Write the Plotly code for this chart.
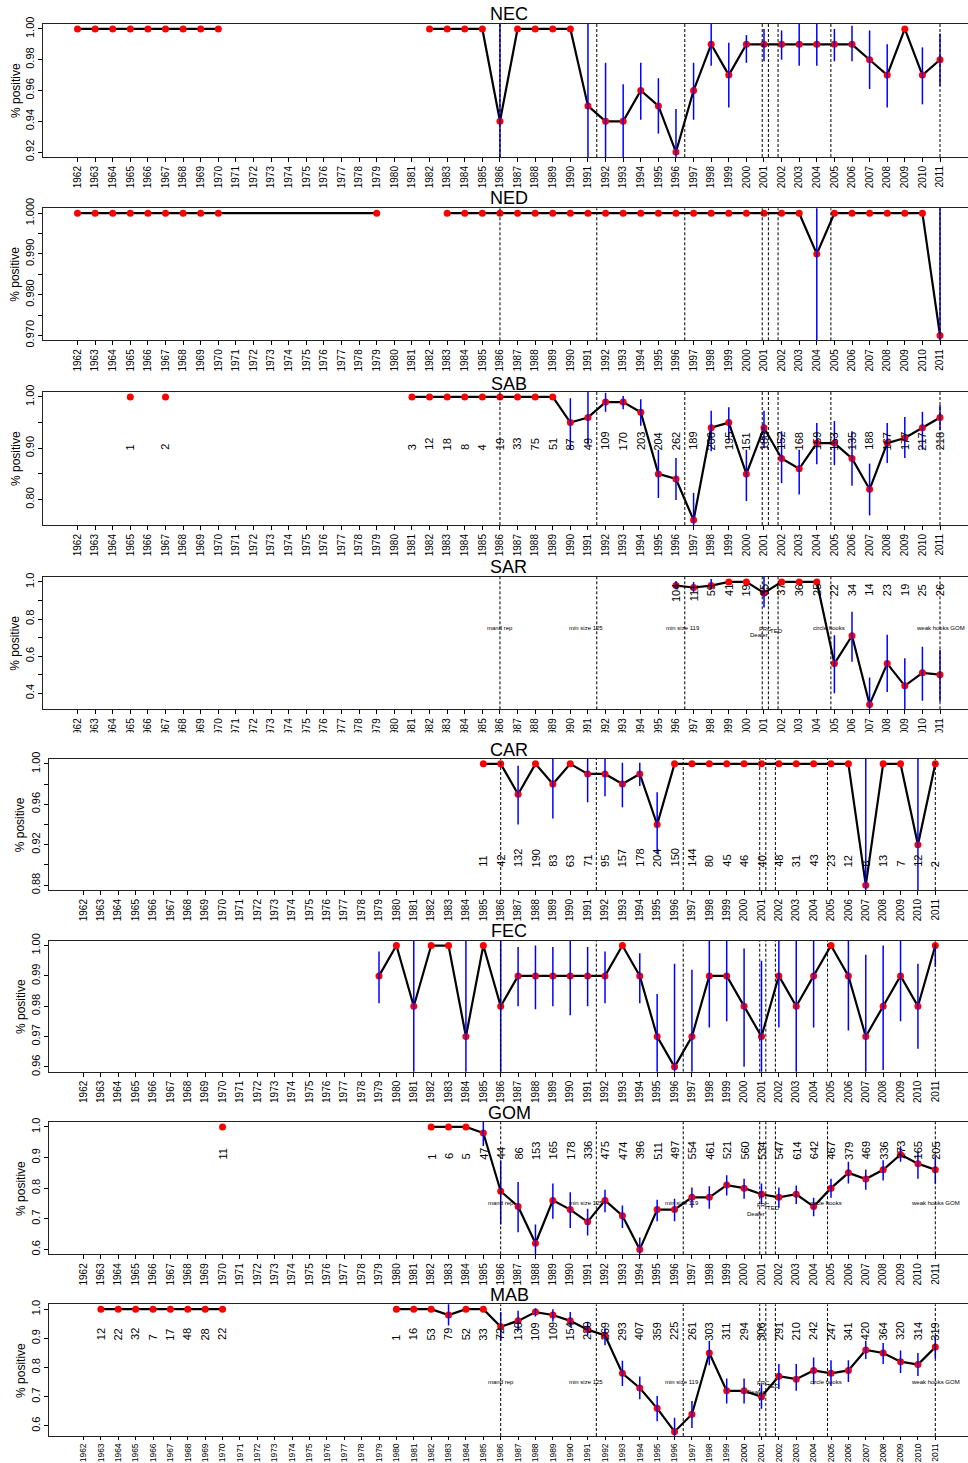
import plotly.graph_objects as go

W, H = 968, 1463
FONT = "Liberation Sans, Arial, sans-serif"

# ---------------- data ----------------
regions = ["NEC", "NED", "SAB", "SAR", "CAR", "FEC", "GOM", "MAB"]
axis_years = list(range(1962, 2012))

# NEC (1971 = gap marker)
nec_years = list(range(1962, 1971)) + [1971] + list(range(1982, 2012))
nec_pct = [1.0] * 9 + [None] + [1.0, 1.0, 1.0, 1.0, 0.94, 1.0, 1.0, 1.0, 1.0,
                               0.95, 0.94, 0.94, 0.96, 0.95, 0.92, 0.96, 0.99, 0.97, 0.99, 0.99,
                               0.99, 0.99, 0.99, 0.99, 0.99, 0.98, 0.97, 1.00, 0.97, 0.98]
nec_lo = [None] * 10 + [None] * 4 + [0.90] + [None] * 4 + [
    0.90, 0.90, 0.90, 0.941, 0.932, 0.90, 0.941, 0.976, 0.949, 0.978, 0.979,
    0.980, 0.976, 0.976, 0.979, 0.979, 0.961, 0.949, None, 0.951, 0.963]
nec_hi = [None] * 10 + [None] * 4 + [1.01] + [None] * 4 + [
    1.01, 0.978, 0.964, 0.978, 0.968, 0.948, 0.978, 1.01, 0.991, 0.996, 1.0,
    0.999, 1.01, 1.01, 1.0, 1.002, 0.999, 0.990, None, 0.988, 0.997]
nec_n = [None] * len(nec_years)

# NED (1980 = gap marker; 1970 -> 1979 joined)
ned_years = list(range(1962, 1971)) + [1979, 1980] + list(range(1983, 2012))
ned_pct = [1.0] * 10 + [None] + [1.0] * 21 + [0.99] + [1.0] * 6 + [0.97]
ned_lo = [None] * 32 + [0.96] + [None] * 6 + [0.96]
ned_hi = [None] * 32 + [1.01] + [None] * 6 + [1.01]
ned_n = [None] * len(ned_years)

# SAB (1966, 1968 = gap markers)
sab_years = [1965, 1966, 1967, 1968] + list(range(1981, 2012))
sab_pct = [1.0, None, 1.0, None] + [1.0] * 9 + [
    0.95, 0.96, 0.99, 0.99, 0.97, 0.85, 0.84, 0.76, 0.94, 0.95, 0.85,
    0.94, 0.88, 0.86, 0.91, 0.91, 0.88, 0.82, 0.91, 0.92, 0.94, 0.96]
sab_lo = [None] * 13 + [
    0.897, 0.907, 0.971, 0.976, 0.944, 0.803, 0.799, 0.70, 0.894, 0.9165, 0.797,
    0.900, 0.832, 0.810, 0.869, 0.867, 0.827, 0.769, 0.871, 0.881, 0.897, 0.935]
sab_hi = [None] * 13 + [
    0.9975, 1.02, 1.008, 1.002, 0.9955, 0.897, 0.881, 0.813, 0.973, 0.980, 0.897,
    0.973, 0.933, 0.897, 0.949, 0.953, 0.933, 0.870, 0.949, 0.961, 0.971, 0.9845]
sab_n = ["1", None, "2", None, "3", "12", "18", "8", "4", "19", "33", "75", "51",
         "87", "49", "109", "170", "203", "204", "262", "189", "206", "195", "151",
         "180", "152", "168", "159", "153", "135", "188", "167", "177", "217", "218"]

# SAR
sar_years = list(range(1996, 2012))
sar_pct = [0.98, 0.97, 0.98, 1.0, 1.0, 0.94, 1.0, 1.0, 1.0,
           0.56, 0.71, 0.34, 0.56, 0.44, 0.51, 0.50]
sar_lo = [0.96, 0.943, 0.961, None, None, 0.862, None, None, None,
          0.40, 0.57, 0.20, 0.407, 0.25, 0.36, 0.355]
sar_hi = [1.005, 1.0, 1.015, None, None, 1.05, None, None, None,
          0.713, 0.839, 0.485, 0.715, 0.588, 0.651, 0.634]
sar_n = ["104", "111", "59", "41", "19", "35", "37", "36", "25",
         "22", "34", "14", "23", "19", "25", "26"]

# CAR
car_years = list(range(1985, 2012))
car_pct = [1.0, 1.0, 0.97, 1.0, 0.98, 1.0, 0.99, 0.99, 0.98, 0.99, 0.94] + \
          [1.0] * 11 + [0.88, 1.0, 1.0, 0.92, 1.0]
car_lo = [None, None, 0.94, None, 0.946, None, 0.962, 0.968, 0.957, 0.978, 0.911] + \
         [None] * 11 + [0.85, None, None, 0.85, None]
car_hi = [None, None, 0.998, None, 1.01, None, 1.01, 1.01, 1.001, 1.001, 0.972] + \
         [None] * 11 + [1.01, None, None, 1.01, None]
car_n = ["11", "42", "132", "190", "83", "63", "71", "95", "157", "178", "204",
         "150", "144", "80", "45", "46", "40", "48", "31", "43", "23", "12",
         "8", "13", "7", "12", "2"]

# FEC
fec_years = list(range(1979, 2012))
fec_pct = [0.99, 1.0, 0.98, 1.0, 1.0, 0.97, 1.0, 0.98, 0.99, 0.99,
           0.99, 0.99, 0.99, 0.99, 1.0, 0.99, 0.97, 0.96, 0.97, 0.99,
           0.99, 0.98, 0.97, 0.99, 0.98, 0.99, 1.0, 0.99, 0.97, 0.98,
           0.99, 0.98, 1.0]
fec_lo = [0.981, None, 0.95, None, None, 0.95, None, 0.95, 0.98, 0.979,
          0.980, 0.977, 0.980, 0.981, None, 0.981, 0.95, 0.95, 0.95, 0.973,
          0.975, 0.96, 0.95, 0.973, 0.95, 0.973, None, 0.972, 0.95, 0.959,
          0.975, 0.966, 0.993]
fec_hi = [0.998, None, 1.01, None, None, 1.01, None, 1.01, 0.9995, 1.0,
          0.9995, 1.01, 0.9995, 0.998, None, 0.9975, 0.984, 0.994, 0.992, 1.01,
          1.01, 0.999, 0.995, 1.01, 1.01, 1.01, None, 1.01, 0.997, 1.0,
          1.01, 0.994, 1.0]
fec_n = [None] * len(fec_years)

# GOM (1971 = gap marker)
gom_years = [1970, 1971] + list(range(1982, 2012))
gom_pct = [1.0, None, 1.0, 1.0, 1.0, 0.98, 0.79, 0.74, 0.62, 0.76, 0.73, 0.69,
           0.76, 0.71, 0.60, 0.73, 0.73, 0.77, 0.77, 0.81, 0.80, 0.78,
           0.77, 0.78, 0.74, 0.80, 0.85, 0.83, 0.86, 0.91, 0.88, 0.86]
gom_lo = [None, None, None, None, None, 0.938, 0.681, 0.656, 0.55, 0.70, 0.67, 0.645,
          0.721, 0.67, 0.55, 0.692, 0.692, 0.736, 0.733, 0.776, 0.765, 0.748,
          0.736, 0.748, 0.708, 0.769, 0.815, 0.795, 0.825, 0.886, 0.831, 0.815]
gom_hi = [None, None, None, None, None, 1.03, 0.891, 0.82, 0.681, 0.815, 0.787, 0.733,
          0.795, 0.743, 0.639, 0.762, 0.765, 0.802, 0.806, 0.842, 0.831, 0.815,
          0.802, 0.809, 0.769, 0.831, 0.886, 0.861, 0.891, 0.937, 0.919, 0.904]
gom_n = ["11", None, "1", "6", "5", "47", "44", "86", "153", "165", "178", "336",
         "475", "474", "396", "511", "497", "554", "461", "521", "560", "534",
         "547", "614", "642", "467", "379", "469", "336", "273", "165", "205"]

# MAB (1971 = gap marker)
mab_years = list(range(1963, 1971)) + [1971] + list(range(1980, 2012))
mab_pct = [1.0] * 8 + [None] + [1.0, 1.0, 1.0, 0.98, 1.0, 1.0,
                               0.94, 0.96, 0.99, 0.98, 0.96, 0.93, 0.91, 0.78, 0.73, 0.66,
                               0.58, 0.64, 0.85, 0.72, 0.72, 0.70, 0.77, 0.76, 0.79, 0.78,
                               0.79, 0.86, 0.85, 0.82, 0.81, 0.87]
mab_lo = [None] * 9 + [None, None, None, 0.944, None, None,
                       0.892, 0.927, 0.975, 0.958, 0.94, 0.909, 0.876, 0.737, 0.691, 0.616,
                       0.55, 0.593, 0.808, 0.677, 0.677, 0.659, 0.726, 0.72, 0.743, 0.737,
                       0.75, 0.829, 0.812, 0.781, 0.771, 0.831]
mab_hi = [None] * 9 + [None, None, None, 1.02, None, None,
                       0.99, 0.995, 1.003, 1.0, 0.99, 0.957, 0.935, 0.823, 0.769, 0.702,
                       0.628, 0.685, 0.892, 0.762, 0.762, 0.743, 0.812, 0.812, 0.834, 0.825,
                       0.825, 0.892, 0.884, 0.858, 0.85, 0.904]
mab_n = ["12", "22", "32", "7", "17", "48", "28", "22", None,
         "1", "16", "53", "79", "52", "33",
         "72", "130", "109", "109", "154", "220", "269", "293", "407", "359",
         "225", "261", "303", "311", "294", "306", "291", "210", "242", "247",
         "341", "420", "364", "320", "314", "319"]

# management events
event_years = [1986, 1991.5, 1996.5, 2000.9, 2001.25, 2001.8, 2004.8, 2011]
event_labels = ["mand rep", "min size 125", "min size 119", "Dealer", "FRC", "TED",
                "circle hooks", "weak hooks GOM"]
event_label_x = [1986, 1990.9, 1996.4, 2000.7, 2001.1, 2001.7, 2004.7, 2011]
event_label_y = [0.75, 0.75, 0.75, 0.715, 0.746, 0.736, 0.75, 0.75]

# y-axis ticks (values, labels)
yticks = {
    "NEC": ([0.92, 0.94, 0.96, 0.98, 1.00], ["0.92", "0.94", "0.96", "0.98", "1.00"]),
    "NED": ([0.970, 0.975, 0.980, 0.985, 0.990, 0.995, 1.000],
            ["0.970", "", "0.980", "", "0.990", "", "1.000"]),
    "SAB": ([0.80, 0.85, 0.90, 0.95, 1.00], ["0.80", "", "0.90", "", "1.00"]),
    "SAR": ([0.4, 0.5, 0.6, 0.7, 0.8, 0.9, 1.0], ["0.4", "", "0.6", "", "0.8", "", "1.0"]),
    "CAR": ([0.88, 0.90, 0.92, 0.94, 0.96, 0.98, 1.00], ["0.88", "", "0.92", "", "0.96", "", "1.00"]),
    "FEC": ([0.96, 0.97, 0.98, 0.99, 1.00], ["0.96", "0.97", "0.98", "0.99", "1.00"]),
    "GOM": ([0.6, 0.7, 0.8, 0.9, 1.0], ["0.6", "0.7", "0.8", "0.9", "1.0"]),
    "MAB": ([0.6, 0.7, 0.8, 0.9, 1.0], ["0.6", "0.7", "0.8", "0.9", "1.0"]),
}

data = {
    "NEC": (nec_years, nec_pct, nec_lo, nec_hi, nec_n),
    "NED": (ned_years, ned_pct, ned_lo, ned_hi, ned_n),
    "SAB": (sab_years, sab_pct, sab_lo, sab_hi, sab_n),
    "SAR": (sar_years, sar_pct, sar_lo, sar_hi, sar_n),
    "CAR": (car_years, car_pct, car_lo, car_hi, car_n),
    "FEC": (fec_years, fec_pct, fec_lo, fec_hi, fec_n),
    "GOM": (gom_years, gom_pct, gom_lo, gom_hi, gom_n),
    "MAB": (mab_years, mab_pct, mab_lo, mab_hi, mab_n),
}

# ---------------- layout geometry (pixels in the 968x1463 page) ----------------
geo = {
    "NEC": dict(top=24, bottom=157, left=43, xmax=2012.59, yr=(0.9168, 1.0032), ty=14, lx=15.5),
    "NED": dict(top=208.3, bottom=340.3, left=43, xmax=2012.59, yr=(0.9688, 1.0012), ty=198, lx=15.5),
    "SAB": dict(top=392, bottom=525, left=43, xmax=2012.59, yr=(0.7504, 1.0096), ty=383.7, lx=15.5),
    "SAR": dict(top=577, bottom=709.3, left=43, xmax=2012.59, yr=(0.3136, 1.0264), ty=566.7, lx=15.5),
    "CAR": dict(top=759, bottom=890, left=49.4, xmax=2012.88, yr=(0.8752, 1.0048), ty=749.7, lx=20.8),
    "FEC": dict(top=940.7, bottom=1071.7, left=49.4, xmax=2012.88, yr=(0.9584, 1.0016), ty=930.7, lx=20.8),
    "GOM": dict(top=1122, bottom=1254.3, left=49.4, xmax=2012.88, yr=(0.584, 1.016), ty=1113.3, lx=20.8),
    "MAB": dict(top=1304.3, bottom=1436, left=49.4, xmax=2012.88, yr=(0.5652, 1.0168), ty=1294.7, lx=20.8),
}
n_pos = {"SAB": (0.90, "bottom", -3), "SAR": (0.988, "top", 1), "CAR": (0.90, "bottom", -3),
         "GOM": (0.90, "bottom", -3), "MAB": (0.90, "bottom", -3)}
event_text_panels = ["SAR", "GOM", "MAB"]
XMIN = 1960.04
XFULL = 2012.96

fig = go.Figure()
layout = dict(width=W, height=H, margin=dict(l=0, r=0, t=0, b=0),
              paper_bgcolor="white", plot_bgcolor="white", showlegend=False,
              font=dict(family=FONT, color="black"))
shapes, annotations = [], []


def px(p):
    return p / W


def py(p):
    return 1 - p / H


for i, reg in enumerate(regions):
    g = geo[reg]
    k = "" if i == 0 else str(i + 1)
    xa, ya = "x" + k, "y" + k
    years, pct, lo, hi, nn = data[reg]

    ex, ey = [], []
    for yr, l, h in zip(years, lo, hi):
        if l is not None and h is not None:
            ex += [yr, yr, None]
            ey += [l, h, None]
    fig.add_trace(go.Scatter(x=years, y=pct, mode="lines", xaxis=xa, yaxis=ya,
                             line=dict(color="black", width=2.2), connectgaps=False,
                             hoverinfo="skip"))
    fig.add_trace(go.Scatter(x=years, y=pct, mode="markers", xaxis=xa, yaxis=ya,
                             marker=dict(color="#ff0000", size=7), hoverinfo="skip"))
    if ex:
        fig.add_trace(go.Scatter(x=ex, y=ey, mode="lines", xaxis=xa, yaxis=ya,
                                 line=dict(color="#0000ff", width=1.5), hoverinfo="skip"))

    last = reg == "MAB"
    layout["xaxis" + k] = dict(
        domain=[px(g["left"]), 1], range=[XMIN, g["xmax"]], anchor=ya,
        tickmode="array", tickvals=axis_years, ticktext=[str(v) for v in axis_years],
        tickangle=-90, tickfont=dict(size=8.5 if last else 10, family=FONT, color="black"),
        ticks="outside", ticklen=3 if last else 4, tickwidth=1, tickcolor="black",
        showline=True, linecolor="#222", linewidth=1, mirror=True,
        showgrid=False, zeroline=False, automargin=False)
    tv, tt = yticks[reg]
    layout["yaxis" + k] = dict(
        domain=[py(g["bottom"]), py(g["top"])], range=list(g["yr"]), anchor=xa,
        tickmode="array", tickvals=tv, ticktext=tt, tickangle=-90,
        tickfont=dict(size=11, family=FONT, color="black"),
        ticks="outside", ticklen=4, tickwidth=1, tickcolor="black",
        showline=True, linecolor="#222", linewidth=1, mirror=False,
        showgrid=False, zeroline=False, automargin=False)

    for ev in event_years:
        shapes.append(dict(type="line", xref=xa, yref=ya + " domain", x0=ev, x1=ev,
                           y0=0, y1=1, layer="above",
                           line=dict(color="black", width=1, dash="3px,2px")))
    if reg in event_text_panels:
        for t, xx, yy in zip(event_labels, event_label_x, event_label_y):
            annotations.append(dict(x=xx, y=yy, xref=xa, yref=ya, text=t, showarrow=False,
                                    font=dict(size=6, family=FONT, color="black"),
                                    xanchor="center", yanchor="middle"))

    if reg in n_pos:
        yv, anc, shift = n_pos[reg]
        for yr, lab in zip(years, nn):
            if lab is None:
                continue
            annotations.append(dict(x=yr, y=yv, xref=xa, yref=ya, text=lab, showarrow=False,
                                    textangle=-90, borderpad=0, yshift=shift,
                                    font=dict(size=11, family=FONT, color="black"),
                                    xanchor="center", yanchor=anc))

    # full (uncropped) plot-region centre for the title
    right_full = g["left"] + (968 - g["left"]) * (XFULL - XMIN) / (g["xmax"] - XMIN)
    xc = (g["left"] + right_full) / 2
    annotations.append(dict(x=px(xc), y=py(g["ty"]), xref="paper", yref="paper", text=reg,
                            showarrow=False, font=dict(size=18, family=FONT, color="black"),
                            xanchor="center", yanchor="middle"))
    annotations.append(dict(x=px(g["lx"]), y=py((g["top"] + g["bottom"]) / 2), xref="paper",
                            yref="paper", text="% positive", showarrow=False, textangle=-90,
                            font=dict(size=12, family=FONT, color="black"),
                            xanchor="center", yanchor="middle"))

# the SAR year labels are cut off by the next panel
shapes.append(dict(type="rect", xref="paper", yref="paper", x0=0, x1=1,
                   y0=py(741), y1=py(732.5), fillcolor="white", line=dict(width=0),
                   layer="above"))

layout["shapes"] = shapes
layout["annotations"] = annotations
fig.update_layout(**layout)
# drop the default 8px page margin so the figure sits at the page corner
fig.write_html("out.html", config={"displayModeBar": False},
               post_script="document.body.style.margin='0px';")
